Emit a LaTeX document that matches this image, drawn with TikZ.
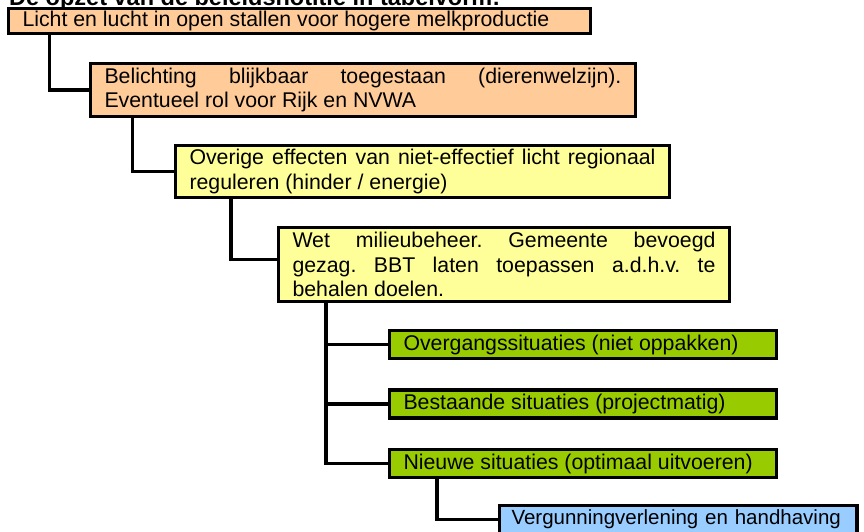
\documentclass[tikz,border=0pt]{standalone}
\usepackage{fontspec}
\setmainfont{Liberation Sans}
\usepackage{xcolor}
\usepackage{tikz}
\usetikzlibrary{positioning}
\definecolor{peach}{RGB}{255,204,153}
\definecolor{paleyellow}{RGB}{255,255,153}
\definecolor{leafgreen}{RGB}{153,204,0}
\definecolor{skyblue}{RGB}{153,204,255}
\newcommand\boxfont{\fontsize{21.3}{24.5}\selectfont\frenchspacing}
\hyphenpenalty=10000
\tolerance=10000
\tikzset{
	level/.style={
		rectangle,
		draw=black,
		line width=3.4pt,
		outer sep=0pt,
		inner xsep=14pt,
		inner ysep=2pt,
		align=justify,
		font=\boxfont
	},
	stage1/.style={level,fill=peach},
	stage2/.style={level,fill=paleyellow},
	stage3/.style={level,fill=leafgreen,text width=359pt,minimum height=28pt},
	stage4/.style={level,fill=skyblue,align=left,inner xsep=12pt,text width=333.5pt,minimum height=28pt,
		font=\fontsize{20.5}{24.5}\selectfont},
	link/.style={line width=3.4pt}
}

\begin{document}
\begin{tikzpicture}[x=1pt,y=1pt]
		\useasboundingbox (0,0) rectangle (864,-531);
		\node[anchor=base west,inner sep=0pt,font=\fontsize{23.5}{28}\selectfont\bfseries] (title) at (9,-5.5) {De opzet van de beleidsnotitie in tabelvorm:};
		\node[stage1,text width=554pt,minimum height=25pt,anchor=north west] (licht) at (8.5,-8.5) {Licht en lucht in open stallen voor hogere melkproductie};
		\node[stage1,text width=517pt,minimum height=53pt,below right=30pt and 82pt of licht.south west] (belichting) {Belichting blijkbaar toegestaan (dierenwelzijn).\linebreak Eventueel rol voor Rijk en NVWA};
		\node[stage2,text width=466pt,minimum height=52pt,below right=29pt and 85pt of belichting.south west] (overig) {Overige effecten van niet-effectief licht regionaal\linebreak reguleren (hinder / energie)};
		\node[stage2,text width=423pt,minimum height=74pt,below right=30pt and 103pt of overig.south west] (wet) {Wet milieubeheer. Gemeente bevoegd\linebreak gezag. BBT laten toepassen a.d.h.v. te\linebreak behalen doelen.};
		\node[stage3,below right=29pt and 111pt of wet.south west] (overgang) {Overgangssituaties (niet oppakken)};
		\node[stage3,below=31.5pt of overgang] (bestaand) {Bestaande situaties (projectmatig)};
		\node[stage3,below=31.5pt of bestaand] (nieuw) {Nieuwe situaties (optimaal uitvoeren)};
		\node[stage4,below right=28pt and 110pt of nieuw.south west] (vergunning) {\mbox{Vergunningverlening en handhaving}};

		\draw[link] ([xshift=41pt]licht.south west) |- (belichting.west);
		\draw[link] ([xshift=42pt]belichting.south west) |- (overig.west);
		\draw[link] ([xshift=55.5pt]overig.south west) |- ([yshift=5pt]wet.west);
		\draw[link] ([xshift=47.5pt]wet.south west) |- (overgang.west);
		\draw[link] ([xshift=47.5pt]wet.south west) |- (bestaand.west);
		\draw[link] ([xshift=47.5pt]wet.south west) |- (nieuw.west);
		\draw[link] ([xshift=47.5pt]nieuw.south west) |- (vergunning.west);
	\end{tikzpicture}
\end{document}
